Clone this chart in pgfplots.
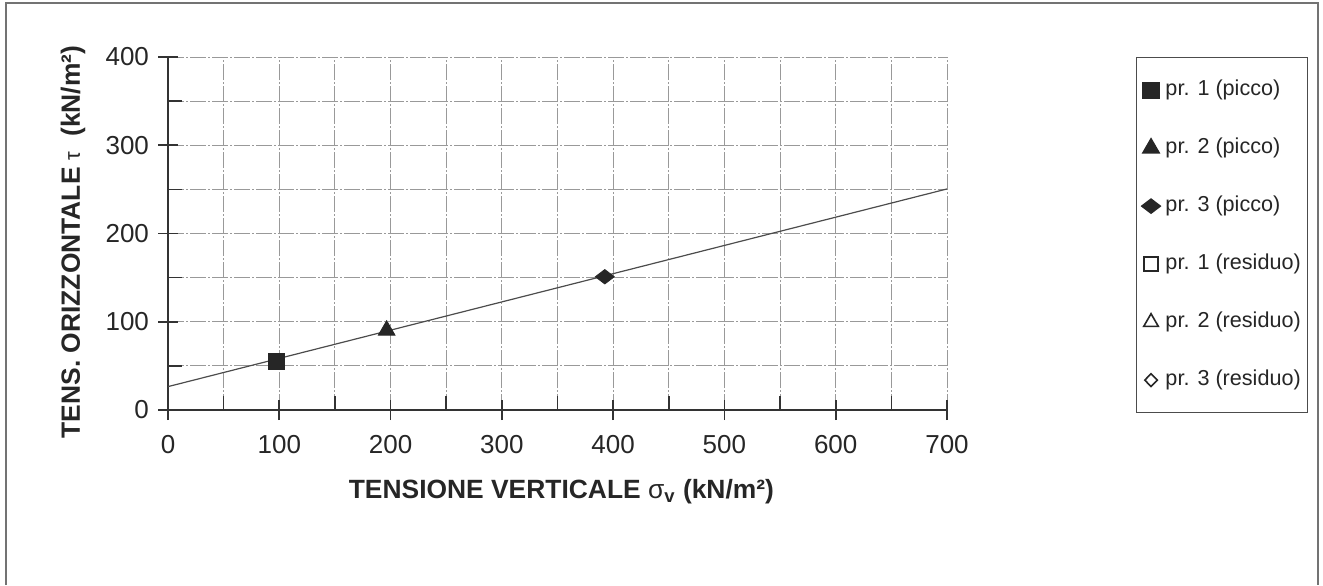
\documentclass[border=0pt]{standalone}
\usepackage{pgfplots}
\pgfplotsset{compat=1.18}
\usepackage{fontspec}
\setmainfont{Liberation Sans}
\begin{document}
\begin{tikzpicture}[x=1pt,y=1pt]
\useasboundingbox (0,0) rectangle (661.5,-292.5);
\draw[black!55, line width=0.8pt] (3,-292.5) -- (3,-1.5) -- (659,-1.5) -- (659,-292.5);
\begin{axis}[
  at={(84pt,-205pt)}, anchor=south west,
  scale only axis, width=389.5pt, height=176.5pt,
  xmin=0, xmax=700, ymin=0, ymax=400,
  xtick={0,100,...,700}, ytick={0,100,...,400},
  minor x tick num=1, minor y tick num=1,
  axis x line*=bottom, axis y line*=left,
  axis line style={-, black!80},
  x axis line style={line width=0.7pt},
  y axis line style={line width=1.2pt},
  tick align=center,
  major tick length=10pt, minor tick length=7pt,
  tick style={black!80, line width=0.8pt},
  minor x tick style={yshift=3.5pt},
  minor y tick style={xshift=3.5pt},
  grid=both,
  major grid style={black!40, line width=0.5pt, dash pattern=on 8pt off 1pt on 1pt off 1pt},
  minor grid style={black!40, line width=0.5pt, dash pattern=on 8pt off 1pt on 1pt off 1pt},
  /pgf/number format/assume math mode=true,
  ticklabel style={font=\fontsize{13}{15}\selectfont, text=black!85},
  xticklabel style={yshift=-4pt},
  yticklabel style={xshift=-1pt},
  xlabel={TENSIONE VERTICALE {\mdseries σ}\textsubscript{v} (kN/m²)},
  ylabel={TENS. ORIZZONTALE {\mdseries\fontsize{11}{13}\selectfont τ}\ \ (kN/m²)},
  label style={font=\fontsize{13.2}{15}\selectfont\bfseries, text=black!85},
  xlabel style={at={(axis description cs:0.505,-0.232)}, anchor=center},
  ylabel style={at={(axis description cs:-0.122,0.476)}, anchor=center},
  legend image code/.code={\draw[#1, only marks] plot coordinates {(0pt,0pt)};},
  legend cell align=left,
  legend style={at={(1.2426,1)}, anchor=north west, draw=black!70, line width=0.6pt,
    font=\fontsize{10.8}{13}\selectfont, text=black!85,
    inner xsep=2.5pt, inner ysep=10pt, row sep=16.5pt,
    nodes={inner sep=1pt, text height=8pt, text depth=2.5pt},
    /tikz/every odd column/.append style={column sep=1.5pt}},
]
\addplot[forget plot, black!70, line width=0.6pt] coordinates {(0,26.5) (700,250.5)};
\addplot[only marks, mark=square*, mark size=4pt, black!85] coordinates {(97,55)};
\addlegendentry{pr. 1 (picco)}
\addplot[only marks, mark=triangle*, mark size=4.8pt, black!85] coordinates {(196.5,90.3)};
\addlegendentry{pr. 2 (picco)}
\addplot[only marks, mark=diamond*, mark size=3.6pt, mark options={xscale=1.75}, black!85] coordinates {(392.5,151)};
\addlegendentry{pr. 3 (picco)}
\addlegendimage{only marks, mark=square, mark size=3.5pt, black!85, line width=0.8pt}
\addlegendentry{pr. 1 (residuo)}
\addlegendimage{only marks, mark=triangle, mark size=4.2pt, black!85, line width=0.8pt}
\addlegendentry{pr. 2 (residuo)}
\addlegendimage{only marks, mark=diamond, mark size=3.2pt, mark options={xscale=1.3}, black!85, line width=0.8pt}
\addlegendentry{pr. 3 (residuo)}
\end{axis}
\end{tikzpicture}
\end{document}
